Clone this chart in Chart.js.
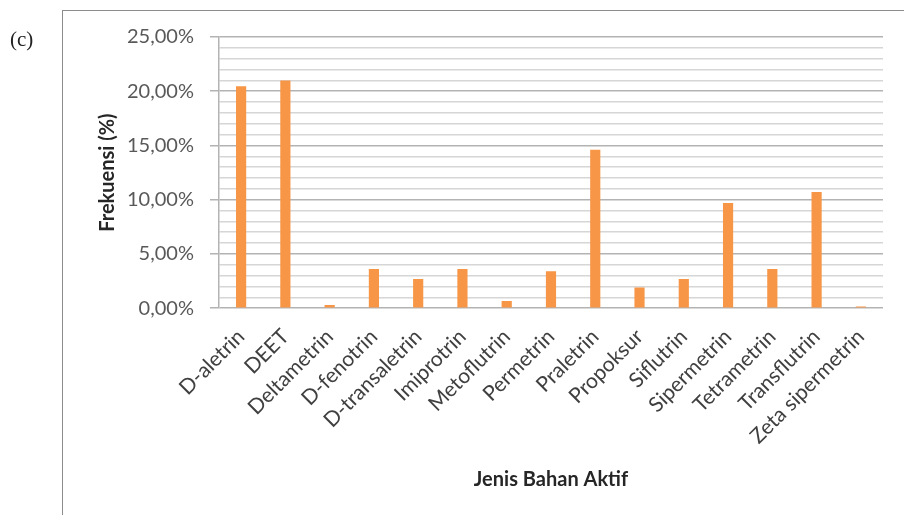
<!DOCTYPE html>
<html>
<head>
<meta charset="utf-8">
<script src="https://cdn.jsdelivr.net/npm/chart.js@4"></script>
<style>
  body { margin: 0; background: #fff; }
  #wrap { position: absolute; left: 0; top: 0; width: 904px; height: 515px; }
  #frame { position: absolute; left: 62px; top: 10px; width: 900px; height: 600px; border: 1.5px solid #8c8c8c; }
  #tag { position: absolute; left: 10px; top: 27px; font: 21px "Liberation Serif", serif; color: #222; }
</style>
</head>
<body>
<div id="wrap">
  <div id="frame"></div>
  <div id="tag">(c)</div>
  <canvas id="chart" width="904" height="515"></canvas>
</div>
<script>
let categories = ['D-aletrin', 'DEET', 'Deltametrin', 'D-fenotrin', 'D-transaletrin', 'Imiprotrin', 'Metoflutrin',
    'Permetrin', 'Praletrin', 'Propoksur', 'Siflutrin', 'Sipermetrin', 'Tetrametrin', 'Transflutrin', 'Zeta sipermetrin'];
let frekuensi = [20.45, 21.0, 0.3, 3.6, 2.7, 3.6, 0.65, 3.4, 14.6, 1.9, 2.7, 9.7, 3.6, 10.7, 0.15];
let yTicks = [0, 5, 10, 15, 20, 25];

let ctx = document.getElementById('chart').getContext('2d');
new Chart(ctx, {
    type: 'bar',
    data: {
        labels: categories,
        datasets: [{
            label: 'Frekuensi',
            data: frekuensi,
            backgroundColor: '#F79646',
            borderWidth: 0,
            barPercentage: 0.23,
            categoryPercentage: 1
        }]
    },
    options: {
        responsive: false,
        animation: false,
        layout: { padding: { left: 96, right: 21, top: 37, bottom: 19 } },
        plugins: {
            legend: { display: false },
            tooltip: { enabled: false }
        },
        scales: {
            x: {
                grid: { display: false, drawTicks: false },
                border: { display: false },
                ticks: {
                    minRotation: 45,
                    maxRotation: 45,
                    padding: 16,
                    color: '#404040',
                    font: { family: 'Lato', size: 21 }
                },
                title: {
                    display: true,
                    text: 'Jenis Bahan Aktif',
                    color: '#262626',
                    font: { family: 'Lato', size: 20, weight: 'bold' },
                    padding: { top: 3 }
                }
            },
            y: {
                min: 0,
                max: 25,
                ticks: {
                    stepSize: 1,
                    autoSkip: false,
                    padding: 16,
                    color: '#595959',
                    font: { family: 'Lato', size: 20 },
                    callback: function(v) {
                        return yTicks.includes(v) ? v.toFixed(2).replace('.', ',') + '%' : '';
                    }
                },
                grid: {
                    lineWidth: 1.5,
                    tickLength: 9,
                    color: c => yTicks.includes(c.tick.value) ? '#b3b3b3' : '#d6d6d6',
                    tickColor: c => yTicks.includes(c.tick.value) ? '#b3b3b3' : 'rgba(0,0,0,0)'
                },
                border: { display: true, color: '#b3b3b3', width: 1.5 },
                title: {
                    display: true,
                    text: 'Frekuensi (%)',
                    color: '#262626',
                    font: { family: 'Lato', size: 20, weight: 'bold' },
                    padding: { top: 0, bottom: -9 }
                }
            }
        }
    }
});
</script>
</body>
</html>
